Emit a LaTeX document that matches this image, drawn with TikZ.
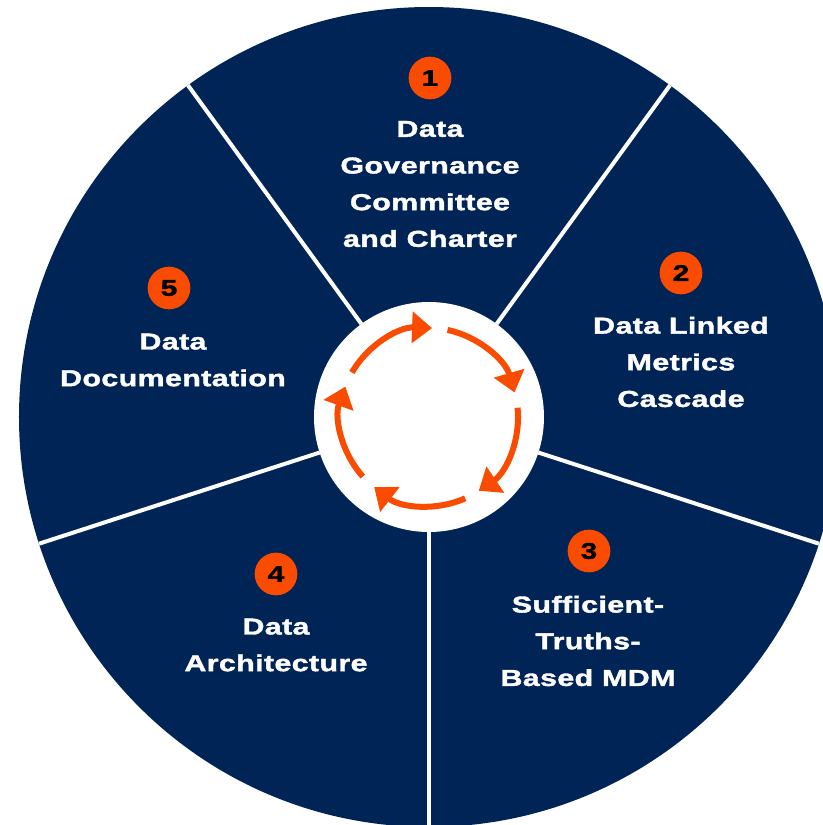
\documentclass[tikz,border=0pt]{standalone}
\usepackage{fontspec}
\setmainfont{Liberation Sans}
\newfontfamily\wheelfont[FakeStretch=1.32,LetterSpace=1.5,FakeBold=1.6]{Liberation Sans}
\usetikzlibrary{arrows.meta}
\definecolor{navy}{HTML}{012456}
\definecolor{flame}{HTML}{FA4C00}

\begin{document}
\begin{tikzpicture}[x=0.75pt,y=0.75pt]
	\useasboundingbox (-429,-408) rectangle (393,417);
	% wheel and spokes
	\fill[navy] (0,0) circle[radius=410];
	\foreach \a in {270,342,54,126,198}
		\draw[white, line width=3pt] (\a:115) -- (\a:410);
	\fill[white] (0,0) circle[radius=115];

	% cycle arrows
	\begin{scope}[flame, line width=4.5pt, >={Triangle[length=15pt,width=23pt]}]
		\foreach \s in {0,...,4}
			\draw[->] ({150-72*\s}:89) arc[start angle={150-72*\s}, end angle={88-72*\s}, radius=89];
	\end{scope}

	\begin{scope}[every node/.style={circle,fill=flame,minimum size=32pt,inner sep=0pt,
	              font=\wheelfont\bfseries\fontsize{17}{17}\selectfont}]
		\node (n1) at (1,339) {1};
		\node (n2) at (252,144) {2};
		\node (n3) at (160,-134) {3};
		\node (n4) at (-153,-157) {4};
		\node (n5) at (-260,129) {5};
	\end{scope}

	\begin{scope}[every node/.style={text=white,align=center,
	              font=\wheelfont\bfseries\fontsize{17.3}{27.5}\selectfont}]
		\node (t1) at (1,233) {Data\\Governance\\Committee\\and Charter};
		\node (t2) at (252,55) {Data Linked\\Metrics\\Cascade};
		\node (t3) at (159,-224) {Sufficient-\\Truths-\\Based MDM};
		\node (t4) at (-153,-228) {Data\\Architecture};
		\node (t5) at (-256,57) {Data\\Documentation};
	\end{scope}
\end{tikzpicture}
\end{document}
